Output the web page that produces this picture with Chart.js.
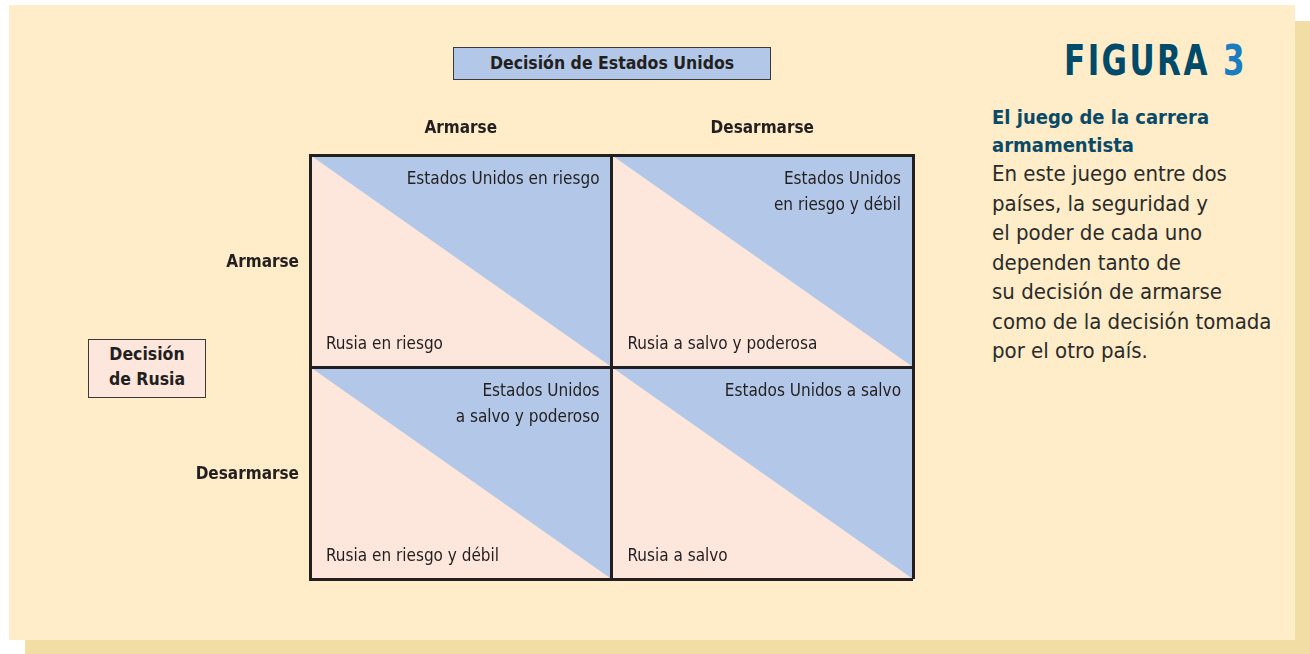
<!DOCTYPE html>
<html>
<head>
<meta charset="utf-8">
<script src="https://cdn.jsdelivr.net/npm/chart.js@4/dist/chart.umd.min.js"></script>
<style>
  body { margin: 0; width: 1310px; height: 654px; background: #fff; position: relative; overflow: hidden; }
  .sombra { position: absolute; left: 25px; top: 21px; width: 1285px; height: 633px; background: #f2dda5; }
  .panel { position: absolute; left: 9px; top: 5px; width: 1286px; height: 635px; background: #feedc8; }
  .caja { position: absolute; box-sizing: border-box; border: 1.5px solid #3a3a3a; text-align: center;
          font-family: "DejaVu Sans Condensed", sans-serif; font-weight: bold;
          font-size: 17.5px; color: #231f20; }
  #cajaEEUU { left: 453px; top: 47px; width: 318px; height: 33px; background: #b3c8e8; line-height: 30px; }
  #cajaRusia { left: 88px; top: 339px; width: 118px; height: 59px; background: #fde6dc; line-height: 25px; padding-top: 2px; }
  #figura { position: absolute; left: 1064px; top: 36px; font-family: "DejaVu Sans Condensed", sans-serif;
            font-weight: bold; font-size: 42px; letter-spacing: 3px; color: #004a6a; line-height: 50px;
            transform: scaleX(0.82); transform-origin: left top; white-space: nowrap; }
  #figura span { color: #1a7dc2; }
  #texto { position: absolute; left: 992px; top: 103px; width: 300px; font-family: "DejaVu Sans Condensed", sans-serif;
           font-size: 22px; color: #2b2b2b; line-height: 29.5px; }
  #texto b { color: #0b4a66; display: block; line-height: 28px; font-size: 20px; }
  canvas { position: absolute; left: 0; top: 0; }
</style>
</head>
<body>
<div class="sombra"></div>
<div class="panel"></div>
<div class="caja" id="cajaEEUU">Decisión de Estados Unidos</div>
<div class="caja" id="cajaRusia">Decisión<br>de Rusia</div>
<div id="figura">FIGURA <span>3</span></div>
<div id="texto"><b>El juego de la carrera<br>armamentista</b>En este juego entre dos<br>países, la seguridad y<br>el poder de cada uno<br>dependen tanto de<br>su decisión de armarse<br>como de la decisión tomada<br>por el otro país.</div>
<canvas id="myChart" width="1310" height="654"></canvas>
<script>
// decisiones de cada país
const columnas = ["Armarse", "Desarmarse"]; // Estados Unidos
const filas = ["Armarse", "Desarmarse"]; // Rusia

// resultados por celda [fila][columna]
const resultadoEEUU = [
  ["Estados Unidos en riesgo", "Estados Unidos\nen riesgo y débil"],
  ["Estados Unidos\na salvo y poderoso", "Estados Unidos a salvo"],
];
const resultadoRusia = [
  ["Rusia en riesgo", "Rusia a salvo y poderosa"],
  ["Rusia en riesgo y débil", "Rusia a salvo"],
];

const azul = "#b3c8e8";
const rosa = "#fde6dc";
const oscuro = "#231f20";
const fuente = '"DejaVu Sans Condensed", sans-serif';

// cada celda: diagonal desde la esquina superior izquierda a la inferior derecha
const datasets = [];
filas.forEach((f, r) => {
  columnas.forEach((c, k) => {
    const top = 2 - r;
    const bottom = 1 - r;
    const diag = [{ x: k, y: top }, { x: k + 1, y: bottom }];
    datasets.push({ data: diag, borderWidth: 0, pointRadius: 0, fill: { value: top }, backgroundColor: azul });
    datasets.push({ data: diag, borderWidth: 0, pointRadius: 0, fill: { value: bottom }, backgroundColor: rosa });
  });
});

const textoCeldas = {
  id: "textoCeldas",
  afterDraw(chart) {
    const ctx = chart.ctx;
    const x = chart.scales.x;
    const y = chart.scales.y;
    ctx.save();
    ctx.font = "17px " + fuente;
    ctx.fillStyle = oscuro;
    ctx.textBaseline = "middle";
    filas.forEach((f, r) => {
      columnas.forEach((c, k) => {
        const izq = x.getPixelForValue(k);
        const der = x.getPixelForValue(k + 1);
        const arriba = y.getPixelForValue(2 - r);
        const abajo = y.getPixelForValue(1 - r);
        ctx.textAlign = "right";
        resultadoEEUU[r][k].split("\n").forEach((linea, i) => {
          ctx.fillText(linea, der - 12, arriba + 25 + i * 26);
        });
        ctx.textAlign = "left";
        ctx.fillText(resultadoRusia[r][k], izq + 16, abajo - 22);
      });
    });
    ctx.restore();
  },
};

const ctx = document.querySelector("#myChart").getContext("2d");
const chart = new Chart(ctx, {
  type: "line",
  data: { datasets: datasets },
  options: {
    responsive: false,
    animation: false,
    events: [],
    layout: { padding: { right: 397, bottom: 75, left: 0, top: 0 } },
    plugins: { legend: { display: false }, tooltip: { enabled: false } },
    scales: {
      x: {
        type: "linear",
        position: "top",
        min: 0,
        max: 2,
        afterBuildTicks: (s) => { s.ticks = [0, 0.5, 1, 1.5, 2].map((v) => ({ value: v })); },
        afterFit: (s) => { s.height = 155; },
        grid: {
          z: 1,
          drawTicks: false,
          color: (c) => (c.tick && c.tick.value % 1 === 0 ? oscuro : "rgba(0,0,0,0)"),
          lineWidth: 3,
        },
        border: { display: true, color: oscuro, width: 3, z: 1 },
        ticks: {
          padding: 16,
          maxRotation: 0,
          autoSkip: false,
          color: oscuro,
          font: { family: fuente, size: 17, weight: "bold" },
          callback: (v) => (v === 0.5 ? columnas[0] : v === 1.5 ? columnas[1] : ""),
        },
      },
      y: {
        type: "linear",
        min: 0,
        max: 2,
        afterBuildTicks: (s) => { s.ticks = [0, 0.5, 1, 1.5, 2].map((v) => ({ value: v })); },
        afterFit: (s) => { s.width = 310; },
        grid: {
          z: 1,
          drawTicks: false,
          color: (c) => (c.tick && c.tick.value % 1 === 0 ? oscuro : "rgba(0,0,0,0)"),
          lineWidth: 3,
        },
        border: { display: true, color: oscuro, width: 3, z: 1 },
        ticks: {
          padding: 11,
          labelOffset: 2,
          autoSkip: false,
          color: oscuro,
          font: { family: fuente, size: 17, weight: "bold" },
          callback: (v) => (v === 1.5 ? filas[0] : v === 0.5 ? filas[1] : ""),
        },
      },
    },
  },
  plugins: [textoCeldas],
});
</script>
</body>
</html>
